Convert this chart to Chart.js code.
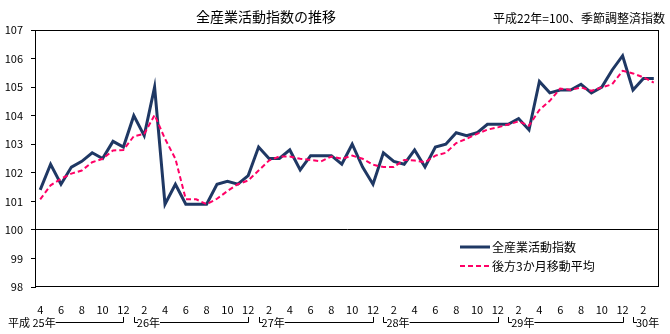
<!DOCTYPE html>
<html lang="ja">
<head>
<meta charset="UTF-8">
<title>全産業活動指数の推移</title>
<style>
  body { margin: 0; background: #fff; }
  #wrap { width: 670px; height: 334px; }
</style>
<script src="https://cdn.jsdelivr.net/npm/chart.js"></script>
</head>
<body>
<div id="wrap"><canvas id="chart" width="670" height="334"></canvas></div>
<script>
// 平成25年4月 ～ 平成30年3月
const months = [4, 5, 6, 7, 8, 9, 10, 11, 12,
  1, 2, 3, 4, 5, 6, 7, 8, 9, 10, 11, 12,
  1, 2, 3, 4, 5, 6, 7, 8, 9, 10, 11, 12,
  1, 2, 3, 4, 5, 6, 7, 8, 9, 10, 11, 12,
  1, 2, 3, 4, 5, 6, 7, 8, 9, 10, 11, 12,
  1, 2, 3];
const yearNames = ['平成 25年', '26年', '27年', '28年', '29年', '30年'];
const yearStarts = [0, 9, 21, 33, 45, 57];

const indexValues = [101.4, 102.3, 101.6, 102.2, 102.4, 102.7, 102.5, 103.1, 102.9,
  104.0, 103.3, 105.0, 100.9, 101.6, 100.9, 100.9, 100.9, 101.6, 101.7, 101.6, 101.9,
  102.9, 102.5, 102.5, 102.8, 102.1, 102.6, 102.6, 102.6, 102.3, 103.0, 102.2, 101.6,
  102.7, 102.4, 102.3, 102.8, 102.2, 102.9, 103.0, 103.4, 103.3, 103.4, 103.7, 103.7,
  103.7, 103.9, 103.5, 105.2, 104.8, 104.9, 104.9, 105.1, 104.8, 105.0, 105.6, 106.1,
  104.9, 105.3, 105.3];
const movingAvg = [101.07, 101.56, 101.79, 101.97, 102.08, 102.37, 102.49, 102.78, 102.8,
  103.28, 103.36, 104.02, 103.19, 102.49, 101.07, 101.07, 100.9, 101.09, 101.36, 101.6, 101.73,
  102.08, 102.43, 102.57, 102.57, 102.49, 102.45, 102.4, 102.57, 102.49, 102.6, 102.49, 102.28,
  102.2, 102.2, 102.45, 102.43, 102.37, 102.6, 102.7, 103.04, 103.19, 103.36, 103.51, 103.59,
  103.69, 103.8, 103.65, 104.2, 104.52, 104.95, 104.9, 104.99, 104.87, 104.99, 105.1, 105.57,
  105.48, 105.34, 105.16];

const seriesNames = ['全産業活動指数', '後方3か月移動平均'];
const FONT = '"Noto Sans CJK JP", "Noto Sans", sans-serif';
const NAVY = '#1F3864';
const PINK = '#FF0066';

// title, frame, legend and year row
const decor = {
  id: 'decor',
  afterDraw(chart) {
    const ctx = chart.ctx;
    const a = chart.chartArea;
    const xs = chart.scales.x;
    ctx.save();

    ctx.strokeStyle = '#000';
    ctx.lineWidth = 1;
    ctx.strokeRect(a.left + 0.5, a.top + 0.5, a.right - a.left - 1, a.bottom - a.top - 1);

    ctx.fillStyle = '#000';
    ctx.textBaseline = 'middle';
    ctx.textAlign = 'center';
    ctx.font = '14px ' + FONT;
    ctx.fillText('全産業活動指数の推移', 266, 17);
    ctx.textAlign = 'right';
    ctx.font = '12px ' + FONT;
    ctx.fillText('平成22年=100、季節調整済指数', 665, 18);

    // legend
    ctx.textAlign = 'left';
    ctx.font = '12px ' + FONT;
    ctx.lineWidth = 3;
    ctx.strokeStyle = NAVY;
    ctx.beginPath(); ctx.moveTo(460, 247); ctx.lineTo(490, 247); ctx.stroke();
    ctx.fillText(seriesNames[0], 492, 247);
    ctx.lineWidth = 2;
    ctx.strokeStyle = PINK;
    ctx.setLineDash([5, 3]);
    ctx.beginPath(); ctx.moveTo(460, 266); ctx.lineTo(490, 266); ctx.stroke();
    ctx.setLineDash([]);
    ctx.fillText(seriesNames[1], 492, 266);

    // year row
    const y = 322;
    ctx.font = '11px ' + FONT;
    ctx.strokeStyle = '#000';
    ctx.lineWidth = 1;
    yearStarts.forEach((s, k) => {
      const e = k + 1 < yearStarts.length ? yearStarts[k + 1] - 1 : months.length - 1;
      const x0 = xs.getPixelForValue(s);
      const x1 = xs.getPixelForValue(e);
      let tx;
      if (k === 0) {
        tx = 8;
      } else {
        ctx.beginPath();
        ctx.moveTo(Math.round(x0) + 0.5, y - 5);
        ctx.lineTo(Math.round(x0) + 0.5, y + 0.5);
        ctx.lineTo(Math.round(x0) + 4, y + 0.5);
        ctx.stroke();
        tx = x0 + 3;
      }
      ctx.fillText(yearNames[k], tx, y + 1);
      const tEnd = tx + ctx.measureText(yearNames[k]).width;
      if (tEnd < x1) {
        ctx.beginPath();
        ctx.moveTo(tEnd, y + 0.5);
        ctx.lineTo(Math.round(x1) + 0.5, y + 0.5);
        ctx.lineTo(Math.round(x1) + 0.5, y - 5);
        ctx.stroke();
      }
    });
    ctx.restore();
  }
};

new Chart(document.getElementById('chart'), {
  type: 'line',
  data: {
    labels: months,
    datasets: [{
      label: seriesNames[0],
      data: indexValues,
      borderColor: NAVY,
      borderWidth: 3,
      pointRadius: 0,
      tension: 0,
      order: 1
    }, {
      label: seriesNames[1],
      data: movingAvg,
      borderColor: PINK,
      borderWidth: 2,
      borderDash: [5, 3],
      pointRadius: 0,
      tension: 0,
      order: 0
    }]
  },
  options: {
    responsive: false,
    animation: false,
    devicePixelRatio: 1,
    layout: { padding: { top: 30, right: 11, left: 0, bottom: 0 } },
    plugins: { legend: { display: false }, tooltip: { enabled: false } },
    scales: {
      x: {
        offset: true,
        grid: { display: false },
        border: { display: false },
        ticks: {
          autoSkip: false,
          maxRotation: 0,
          padding: 8,
          color: '#000',
          font: { family: FONT, size: 11 },
          callback: (v, i) => months[i] % 2 === 0 ? String(months[i]) : ''
        },
        afterFit: s => { s.height = 47; }
      },
      y: {
        min: 98,
        max: 107,
        ticks: {
          stepSize: 1,
          padding: 8,
          color: '#000',
          font: { family: FONT, size: 11 }
        },
        grid: {
          color: c => c.tick && c.tick.value === 100 ? '#000' : 'rgba(0,0,0,0)',
          tickColor: '#000',
          tickLength: 4
        },
        border: { display: true, color: '#000' },
        afterFit: s => { s.width = 35; }
      }
    }
  },
  plugins: [decor]
});
</script>
</body>
</html>
